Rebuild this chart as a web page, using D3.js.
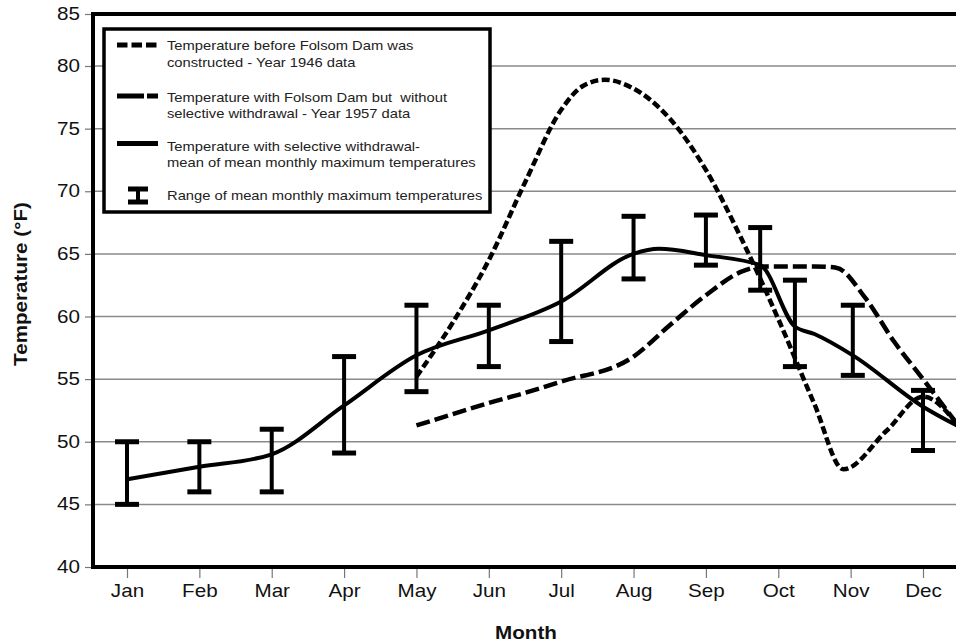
<!DOCTYPE html>
<html><head><meta charset="utf-8">
<script src="https://cdn.jsdelivr.net/npm/d3@7"></script>
<style>html,body{margin:0;padding:0;background:#fff;} svg{display:block;} text{white-space:pre;}</style>
</head><body><svg id="chart" width="956" height="642"></svg>
<script>
// ---------- data ----------
const months = ["Jan","Feb","Mar","Apr","May","Jun","Jul","Aug","Sep","Oct","Nov","Dec"];
const yTicks = [40,45,50,55,60,65,70,75,80,85];
const gridValues = [45,50,55,60,65,70,75,80];

// Temperature before Folsom Dam (1946) - month position (0 = Jan)
const before1946Month = [4, 4.5, 5, 5.5, 6, 6.3, 6.6, 7, 7.5, 8, 8.5, 9, 9.5, 9.9, 10.5, 11, 11.5];
const before1946Temp  = [55.2, 59.5, 64.5, 70.7, 76.5, 78.4, 78.9, 78.2, 75.8, 71.7, 66.1, 59.8, 53.0, 47.8, 50.9, 53.6, 51.2];

// Temperature with dam, without selective withdrawal (1957)
const dam1957Month = [4, 4.5, 5, 5.5, 6, 7, 7.5, 8, 8.5, 8.8, 9.5, 9.8, 10.2, 10.6, 11, 11.5];
const dam1957Temp  = [51.3, 52.2, 53.1, 53.9, 54.8, 56.8, 59.3, 61.7, 63.6, 64.0, 64.0, 63.9, 61.5, 58.0, 55.0, 51.2];

// Temperature with selective withdrawal - mean
const selectiveMonth = [0, 1, 2, 3, 4, 5, 6, 7, 7.35, 8, 8.75, 9.23, 9.5, 10.03, 11, 11.5];
const selectiveTemp  = [47, 48, 49, 52.9, 56.9, 58.9, 61.2, 65.0, 65.4, 64.9, 64.1, 59.2, 58.6, 56.9, 52.8, 51.2];

// Range of mean monthly maximum temperatures
const rangeMonth = [0, 1, 2, 3, 4, 5, 6, 7, 8, 8.75, 9.23, 10.03, 11];
const rangeLow   = [45, 46, 46, 49.1, 54, 56, 58, 63, 64.1, 62.1, 56, 55.3, 49.3];
const rangeHigh  = [50, 50, 51, 56.8, 60.9, 60.9, 66, 68, 68.1, 67.1, 62.9, 60.9, 54.1];

const legendLines = [
  ["Temperature before Folsom Dam was", "constructed - Year 1946 data"],
  ["Temperature with Folsom Dam but  without", "selective withdrawal - Year 1957 data"],
  ["Temperature with selective withdrawal-", "mean of mean monthly maximum temperatures"],
  ["Range of mean monthly maximum temperatures"]
];

// ---------- drawing ----------
const svg = d3.select("#chart");
const FONT = "'Liberation Sans', Arial, sans-serif";
const SX = 1.18; // horizontal stretch of the reference text

const x = d3.scaleLinear().domain([0, 11]).range([127, 923]);
const y = d3.scaleLinear().domain([40, 80, 85]).range([567, 66, 14]);
const frameL = 93, frameR = 1000, frameT = y(85), frameB = y(40);

svg.append("rect").attr("width", 956).attr("height", 642).attr("fill", "#fff");

// gridlines
svg.append("g").selectAll("line").data(gridValues).join("line")
  .attr("x1", frameL).attr("x2", frameR)
  .attr("y1", d => y(d)).attr("y2", d => y(d))
  .attr("stroke", "#8a8a8a").attr("stroke-width", 1.5);

// y axis
const yAxis = svg.append("g").attr("transform", `translate(${frameL},0)`)
  .call(d3.axisLeft(y).tickValues(yTicks).tickSize(8).tickFormat(d3.format("d")));
yAxis.select(".domain").remove();
yAxis.selectAll(".tick line").attr("stroke", "#777").attr("stroke-width", 1.2);
yAxis.selectAll(".tick text").attr("font-family", FONT).attr("font-size", 17.5)
  .attr("fill", "#111").attr("transform", `scale(${SX},1)`);

// x axis
const xAxis = svg.append("g").attr("transform", `translate(0,${frameB + 2})`)
  .call(d3.axisBottom(x).tickValues(d3.range(12)).tickFormat(i => months[i]).tickSize(9).tickPadding(7));
xAxis.select(".domain").remove();
xAxis.selectAll(".tick line").attr("stroke", "#777").attr("stroke-width", 1.2);
xAxis.selectAll(".tick text").attr("font-family", FONT).attr("font-size", 17.5)
  .attr("fill", "#111").attr("transform", `scale(${SX},1)`);

// axis titles
svg.append("text").attr("transform", `translate(27,284) rotate(-90) scale(${SX},1)`)
  .attr("text-anchor", "middle").attr("font-family", FONT).attr("font-weight", "bold")
  .attr("font-size", 17.5).attr("fill", "#111").text("Temperature (°F)");
svg.append("text").attr("transform", `translate(526,639) scale(${SX},1)`)
  .attr("text-anchor", "middle").attr("font-family", FONT).attr("font-weight", "bold")
  .attr("font-size", 17.5).attr("fill", "#111").text("Month");

// series lines
const lineGen = d3.line().x(d => x(d[0])).y(d => y(d[1])).curve(d3.curveMonotoneX);
const zip = (a, b) => a.map((v, i) => [v, b[i]]);

svg.append("path").datum(zip(dam1957Month, dam1957Temp))
  .attr("d", lineGen).attr("fill", "none").attr("stroke", "#000")
  .attr("stroke-width", 4.5).attr("stroke-dasharray", "14,5");
svg.append("path").datum(zip(before1946Month, before1946Temp))
  .attr("d", lineGen).attr("fill", "none").attr("stroke", "#000")
  .attr("stroke-width", 4.5).attr("stroke-dasharray", "8,3.5");
svg.append("path").datum(zip(selectiveMonth, selectiveTemp))
  .attr("d", lineGen).attr("fill", "none").attr("stroke", "#000")
  .attr("stroke-width", 4);

// error bars
const bars = svg.append("g").selectAll("g").data(rangeMonth.map((m, i) => ({m, lo: rangeLow[i], hi: rangeHigh[i]})))
  .join("g");
bars.append("line").attr("x1", d => x(d.m)).attr("x2", d => x(d.m))
  .attr("y1", d => y(d.lo)).attr("y2", d => y(d.hi)).attr("stroke", "#000").attr("stroke-width", 4);
bars.append("line").attr("x1", d => x(d.m) - 12).attr("x2", d => x(d.m) + 12)
  .attr("y1", d => y(d.lo)).attr("y2", d => y(d.lo)).attr("stroke", "#000").attr("stroke-width", 5);
bars.append("line").attr("x1", d => x(d.m) - 12).attr("x2", d => x(d.m) + 12)
  .attr("y1", d => y(d.hi)).attr("y2", d => y(d.hi)).attr("stroke", "#000").attr("stroke-width", 5);

// legend
const lg = svg.append("g");
lg.append("rect").attr("x", 104).attr("y", 29).attr("width", 386).attr("height", 183)
  .attr("fill", "#fff").attr("stroke", "#000").attr("stroke-width", 3.5);
const sampleY = [45, 96, 143.5];
const sampleDash = ["10.5,4", "27,3,11,100", null];
sampleY.forEach((sy, i) => {
  const l = lg.append("line").attr("x1", 117).attr("x2", 158).attr("y1", sy).attr("y2", sy)
    .attr("stroke", "#000").attr("stroke-width", 5);
  if (sampleDash[i]) l.attr("stroke-dasharray", sampleDash[i]);
});
lg.append("line").attr("x1", 138).attr("x2", 138).attr("y1", 188).attr("y2", 203).attr("stroke", "#000").attr("stroke-width", 4);
lg.append("line").attr("x1", 128).attr("x2", 148).attr("y1", 189).attr("y2", 189).attr("stroke", "#000").attr("stroke-width", 5);
lg.append("line").attr("x1", 128).attr("x2", 148).attr("y1", 202).attr("y2", 202).attr("stroke", "#000").attr("stroke-width", 5);

const baselines = [[49.5, 66.5], [101.5, 117.5], [150.5, 166.5], [200]];
legendLines.forEach((lines, i) => {
  lines.forEach((t, j) => {
    lg.append("text").attr("transform", `translate(167,${baselines[i][j]}) scale(${SX},1)`)
      .attr("font-family", FONT).attr("font-size", 12.5).attr("fill", "#222").text(t);
  });
});

// frame
svg.append("path")
  .attr("d", `M${frameR},${frameT} H${frameL} V${frameB} H${frameR}`)
  .attr("fill", "none").attr("stroke", "#000").attr("stroke-width", 4);
</script>
</body></html>
